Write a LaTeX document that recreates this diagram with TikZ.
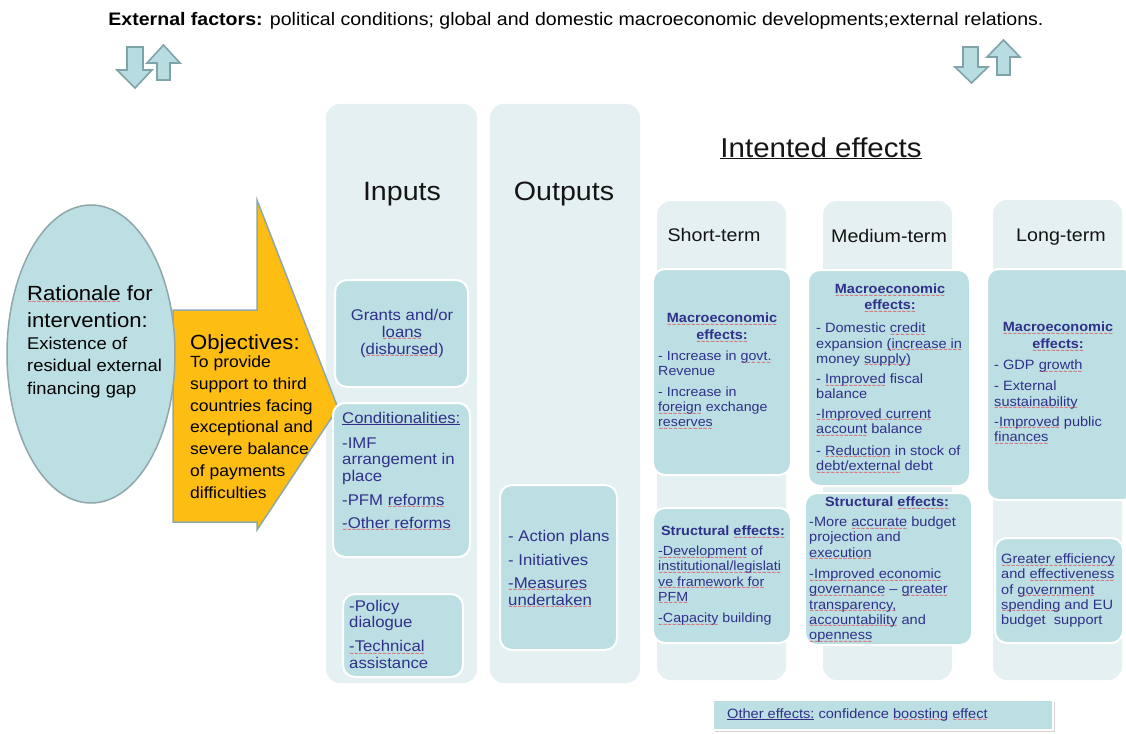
\documentclass[tikz,border=0pt]{standalone}
\usepackage{fontspec}
\setmainfont{Liberation Sans}[FakeStretch=1.08]
\newfontfamily\sqfont{DejaVu Sans}
\usetikzlibrary{shadows}
\definecolor{panelc}{HTML}{E5F0F2}
\definecolor{boxc}{HTML}{BCDFE3}
\definecolor{navyc}{HTML}{30308A}
\definecolor{orngc}{HTML}{FDBD13}
\definecolor{bordc}{HTML}{8FA7AA}
\definecolor{arrf}{HTML}{B7DDE2}
\definecolor{arrb}{HTML}{7FA3A6}
\definecolor{headc}{HTML}{151515}
\definecolor{sqred}{HTML}{E8303A}
\newcommand{\myfs}[2]{\fontsize{#1}{#2}\selectfont}
% red wavy spell-check underline (rw), and the same under a solid underline (rwu)
\newsavebox{\rwbox}
\newcommand{\rwwave}{\smash{\rlap{\lower3.5pt\hbox to\wd\rwbox{\color{sqred}\fontsize{5.5}{5.5}\sqfont\bfseries\xleaders\hbox{\char"223C}\hfill}}}}
\newcommand{\rw}[1]{\sbox{\rwbox}{#1}\rwwave\usebox{\rwbox}}
\newcommand{\rwu}[1]{\sbox{\rwbox}{#1}\rwwave\smash{\rlap{\color{navyc}\vrule width\wd\rwbox height -1.1pt depth 1.8pt}}\usebox{\rwbox}}
\tikzset{
  panelbox/.style={fill=panelc, draw=none, rounded corners=14pt},
  effbox/.style={fill=boxc, draw=white, line width=2pt, rounded corners=12pt},
  txt/.style={inner sep=0pt, align=left, text=navyc, anchor=base west},
  ctxt/.style={inner sep=0pt, align=center, text=navyc, anchor=base},
  head/.style={inner sep=0pt, text=headc, anchor=base},
  smallarr/.style={fill=arrf, draw=arrb, line width=1.6pt, line join=miter},
}
\begin{document}
\begin{tikzpicture}[x=1pt,y=-1pt]
\useasboundingbox (0,0) rectangle (1126,733);
\clip (0,0) rectangle (1126,733);
\fill[white] (0,0) rectangle (1126,733);

% title
\node[head, text=black, font=\myfs{18.1}{21}] (title) at (576,26) {\textbf{External factors:} political conditions; global and domestic macroeconomic developments;external relations.};

% small arrows
\draw[smallarr] (127,47) -- (143,47) -- (143,70) -- (152,70) -- (135,88) -- (117,70) -- (127,70) -- cycle;
\draw[smallarr] (157,80) -- (170,80) -- (170,63) -- (180,63) -- (163.5,45) -- (147,63) -- (157,63) -- cycle;
\draw[smallarr] (963,47) -- (978,47) -- (978,67) -- (988,67) -- (971.5,83) -- (955,67) -- (963,67) -- cycle;
\draw[smallarr] (997,75) -- (1010,75) -- (1010,57) -- (1020,57) -- (1003.5,40) -- (987,57) -- (997,57) -- cycle;

% panels
\path[panelbox] (326,104) rectangle (477,683);
\path[panelbox] (490,104) rectangle (640,683);
\path[panelbox] (657,201) rectangle (786,680);
\path[panelbox] (823,201) rectangle (952,680);
\path[panelbox] (993,200) rectangle (1122,680);

% orange arrow
\draw[fill=orngc, draw=bordc, line width=1.5pt, line join=miter]
  (173,310) -- (257,310) -- (257,200) -- (338,408) -- (257,530) -- (257,522) -- (173,522) -- cycle;
% ellipse
\draw[fill=boxc, draw=bordc, line width=1.5pt] (91,354) ellipse [x radius=84, y radius=149];

% boxes
\path[effbox] (335,280) rectangle (468,387);
\path[effbox] (333,403) rectangle (470,557);
\path[effbox] (343,594) rectangle (463,677);
\path[effbox] (500,485) rectangle (617,650);
\path[effbox] (653,269) rectangle (791,475);
\path[effbox] (653,508) rectangle (791,643);
\path[effbox] (808,270) rectangle (970,486);
\path[effbox] (805,493) rectangle (972,645);
\path[effbox] (987,269) rectangle (1135,500);
\path[effbox] (995,538) rectangle (1123,643);
\path[fill=boxc, draw=white, line width=2pt, drop shadow={opacity=0.35, shadow xshift=2pt, shadow yshift=-2pt}] (713,700) rectangle (1053,730);

% ellipse & arrow texts (nodes placed at the baseline of their last line)
\node[txt, text=black, font=\myfs{20.5}{27}] (rat1) at (27,327) {\rw{Rationale} for\\intervention:};
\node[txt, text=black, font=\myfs{17}{22.5}] (rat2) at (27,394) {Existence of\\residual external\\financing gap};
\node[txt, text=black, font=\myfs{20.5}{24}] (obj1) at (190,349) {Objectives:};
\node[txt, text=black, font=\myfs{16.2}{21.7}] (obj2) at (190,498) {To provide\\support to third\\countries facing\\exceptional and\\severe balance\\of payments\\difficulties};

% headings
\node[head, font=\myfs{26.5}{30}] (hin) at (402,200) {Inputs};
\node[head, font=\myfs{26.5}{30}] (hout) at (564,200) {Outputs};
\node[head, font=\myfs{27.3}{30}] (hint) at (821,157) {\underline{Intented effects}};
\node[head, font=\myfs{18.2}{22}] (hs) at (714,241.5) {Short-term};
\node[head, font=\myfs{18.2}{22}] (hm) at (889,242) {Medium-term};
\node[head, font=\myfs{18.2}{22}] (hl) at (1061,241.5) {Long-term};

% inputs texts
\node[ctxt, font=\myfs{15.5}{17}] (grants) at (402,354) {Grants and/or\\\rw{loans}\\(\rw{disbursed})};
\node[txt, font=\myfs{15.5}{16.5}] (cond) at (342,528) {\rwu{Conditionalities:}\\[8.5pt]-IMF\\arrangement in\\place\\[7.5pt]-PFM \rw{reforms}\\[6.5pt]\rw{-Other reforms}};
\node[txt, font=\myfs{15.5}{16.5}] (policy) at (349,668) {-Policy\\dialogue\\[7.5pt]\rw{-Technical}\\assistance};
% outputs texts
\node[txt, font=\myfs{15.5}{17}] (actions) at (508,605) {- Action plans\\[7pt]- Initiatives\\[6pt]\rw{-Measures}\\\rw{undertaken}};

% short-term
\node[ctxt, font=\myfs{13.4}{17}\bfseries] (smh) at (722,339.5) {\rw{Macroeconomic}\\\rw{effects:}};
\node[txt, font=\myfs{13.2}{15}] (smb) at (658,426.5) {- Increase in \rw{govt.}\\Revenue\\[6pt]- Increase in\\\rw{foreign} exchange\\\rw{reserves}};
\node[ctxt, font=\myfs{13.4}{16}\bfseries] (ssh) at (723,535.5) {Structural \rw{effects:}};
\node[txt, font=\myfs{13.2}{15.2}] (ssb) at (658,622.5) {\rw{-Development} of\\\rw{institutional/legislati}\\\rw{ve framework for}\\\rw{PFM}\\[6pt]\rw{-Capacity} building};

% medium-term
\node[ctxt, font=\myfs{13.4}{16}\bfseries] (mmh) at (890,309.5) {\rw{Macroeconomic}\\\rw{effects:}};
\node[txt, font=\myfs{13.5}{15.2}] (mmb) at (816,470.5) {- Domestic \rw{credit}\\expansion \rw{(increase in}\\money \rw{supply)}\\[5pt]- \rw{Improved} fiscal\\balance\\[4.5pt]\rw{-Improved current}\\\rw{account} balance\\[6.5pt]- \rw{Reduction} in stock of\\\rw{debt/external} debt};
\node[ctxt, font=\myfs{13.4}{16}\bfseries] (msh) at (887,506.5) {Structural \rw{effects:}};
\node[txt, font=\myfs{13.5}{15.2}] (msb) at (809,639.5) {-More \rw{accurate} budget\\projection and\\\rw{execution}\\[6.5pt]\rw{-Improved economic}\\\rw{governance} – \rw{greater}\\\rw{transparency,}\\\rw{accountability} and\\\rw{openness}};

% long-term
\node[ctxt, font=\myfs{13.4}{17}\bfseries] (lmh) at (1058,348.5) {\rw{Macroeconomic}\\\rw{effects:}};
\node[txt, font=\myfs{13.5}{15.2}] (lmb) at (994,441.5) {- GDP \rw{growth}\\[6pt]- External\\\rw{sustainability}\\[5pt]-\rw{Improved} public\\\rw{finances}};
\node[txt, font=\myfs{13.5}{15.25}] (lsb) at (1001,624.5) {\rw{Greater efficiency}\\and \rw{effectiveness}\\of \rw{government}\\\rw{spending} and EU\\budget\ \ support};

% other effects
\node[txt, font=\myfs{13.5}{16}] (other) at (727,718) {\rwu{Other effects:} confidence \rw{boosting} \rw{effect}};
\end{tikzpicture}
\end{document}
